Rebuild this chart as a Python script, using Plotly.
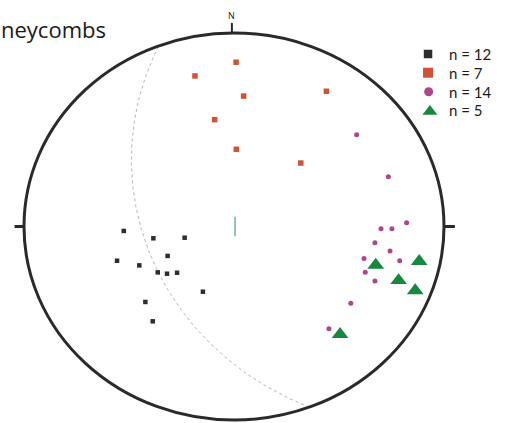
import numpy as np
import plotly.graph_objects as go

# ---- data (projected stereonet coordinates, unit primitive circle) ----
black_x = [-0.525, -0.384, -0.235, -0.557, -0.451, -0.316, -0.363, -0.319, -0.271, -0.148, -0.422, -0.387]
black_y = [-0.023, -0.061, -0.058, -0.177, -0.201, -0.152, -0.237, -0.244, -0.239, -0.337, -0.390, -0.490]

orange_x = [0.010, -0.186, 0.046, 0.440, -0.092, 0.011, 0.318]
orange_y = [0.849, 0.778, 0.674, 0.699, 0.552, 0.399, 0.328]

magenta_x = [0.822, 0.700, 0.752, 0.671, 0.743, 0.619, 0.789, 0.625, 0.671, 0.556, 0.452, 0.584, 0.735, 0.784]
magenta_y = [0.020, -0.011, -0.011, -0.084, -0.127, -0.166, -0.177, -0.237, -0.282, -0.397, -0.528, 0.474, 0.257, -0.275]

green_x = [0.675, 0.882, 0.784, 0.863, 0.505]
green_y = [-0.199, -0.180, -0.279, -0.331, -0.557]

legend_labels = ["n = 12", "n = 7", "n = 14", "n = 5"]

# great circle (strike / dip, right-hand rule)
gc_strike = 159.0
gc_dip = 44.0

C_BLACK = "#2d2d2d"
C_ORANGE = "#cf5434"
C_MAGENTA = "#ad468a"
C_GREEN = "#17893f"

# stereographic projection of the great circle
s = np.radians(gc_strike)
d = np.radians(gc_dip)
t = np.radians(np.linspace(0, 180, 181))
sv = np.array([np.sin(s), np.cos(s), 0.0])
dd = s + np.pi / 2
dv = np.array([np.cos(d) * np.sin(dd), np.cos(d) * np.cos(dd), -np.sin(d)])
vec = np.outer(np.cos(t), sv) + np.outer(np.sin(t), dv)
plunge = np.arcsin(np.clip(-vec[:, 2], -1, 1))
trend = np.arctan2(vec[:, 0], vec[:, 1])
r = np.tan((np.pi / 2 - plunge) / 2)
gc_x = r * np.sin(trend)
gc_y = r * np.cos(trend)

fig = go.Figure()
fig.add_trace(go.Scatter(x=gc_x, y=gc_y, mode="lines",
                         line=dict(color="#b5b5b5", width=1, dash="dot"),
                         showlegend=False, hoverinfo="skip"))
fig.add_trace(go.Scatter(x=black_x, y=black_y, mode="markers", name=legend_labels[0],
                         marker=dict(symbol="square", size=4.5, color=C_BLACK),
                         showlegend=False))
fig.add_trace(go.Scatter(x=orange_x, y=orange_y, mode="markers", name=legend_labels[1],
                         marker=dict(symbol="square", size=5.5, color=C_ORANGE),
                         showlegend=False))
fig.add_trace(go.Scatter(x=magenta_x, y=magenta_y, mode="markers", name=legend_labels[2],
                         marker=dict(symbol="circle", size=5, color=C_MAGENTA),
                         showlegend=False))
fig.add_trace(go.Scatter(x=green_x, y=green_y, mode="markers", name=legend_labels[3],
                         marker=dict(symbol="triangle-up", size=14.5, color=C_GREEN),
                         showlegend=False))

# ---- manual legend (layout only) ----
leg_key_x = [0.924, 0.924, 0.927, 0.933]
leg_key_y = [0.8915, 0.7948, 0.6966, 0.5943]
leg_text_y = [0.8915, 0.7948, 0.6966, 0.6021]
leg_symbols = ["square", "square", "circle", "triangle-up"]
leg_sizes = [8.5, 10, 9, 13]
leg_colors = [C_BLACK, C_ORANGE, C_MAGENTA, C_GREEN]
fig.add_trace(go.Scatter(x=leg_key_x, y=leg_key_y, mode="markers",
                         marker=dict(symbol=leg_symbols, size=leg_sizes, color=leg_colors,
                                     opacity=1, line=dict(width=0)),
                         showlegend=False, hoverinfo="skip"))

shapes = [
    dict(type="circle", xref="x", yref="y", x0=-1, x1=1, y0=-1, y1=1,
         line=dict(color="#2a2a2a", width=3)),
    dict(type="line", xref="x", yref="y", x0=-1.045, x1=-1.0, y0=0, y1=0,
         line=dict(color="#2a2a2a", width=3)),
    dict(type="line", xref="x", yref="y", x0=1.0, x1=1.052, y0=0, y1=0,
         line=dict(color="#2a2a2a", width=3)),
    dict(type="line", xref="x", yref="y", x0=-0.01, x1=-0.01, y0=1.0, y1=1.052,
         line=dict(color="#2a2a2a", width=2)),
    dict(type="line", xref="x", yref="y", x0=0.005, x1=0.005, y0=0.05, y1=-0.05,
         line=dict(color="#6fb39a", width=1.5)),
]

annotations = [
    dict(text="neycombs", xref="paper", yref="paper", x=0, y=1, xanchor="left", yanchor="top",
         xshift=-1, yshift=-12, showarrow=False,
         font=dict(family="Open Sans", size=22, color="#1a1a1a")),
    dict(text="N", xref="x", yref="y", x=-0.014, y=1.09, xanchor="center", yanchor="middle",
         showarrow=False, font=dict(family="Open Sans", size=9, color="#1a1a1a")),
]
for lab, ty in zip(legend_labels, leg_text_y):
    annotations.append(dict(text=lab, xref="x", yref="y", x=1.019, y=ty,
                            xanchor="left", yanchor="middle", showarrow=False, borderpad=0,
                            font=dict(family="Lato", size=15, color="#1a1a1a")))

fig.update_layout(
    width=512, height=423,
    margin=dict(l=0, r=0, t=0, b=0),
    paper_bgcolor="white", plot_bgcolor="white",
    xaxis=dict(range=[-1.1143, 1.3238], visible=False, fixedrange=True),
    yaxis=dict(range=[-1.0155, 1.1705], visible=False, fixedrange=True),
    shapes=shapes,
    annotations=annotations,
    showlegend=False,
)

fig.write_html("out.html", config={"displayModeBar": False},
               post_script="document.body.style.margin='0px';")
